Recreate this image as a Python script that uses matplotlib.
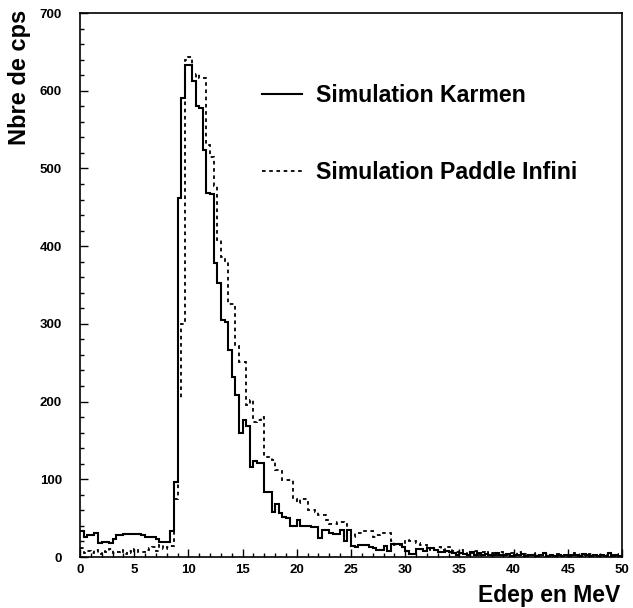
import numpy as np
import matplotlib
matplotlib.use('Agg')
import matplotlib.pyplot as plt
from matplotlib.ticker import MultipleLocator

plt.rcParams['font.family'] = ['Liberation Sans', 'DejaVu Sans']
plt.rcParams['font.weight'] = 'bold'

# 150 bins de 1/3 MeV entre 0 et 50 MeV
x_min, x_max, n_bins = 0, 50, 150

karmen = [33, 26, 28, 28, 31, 18, 19, 19, 18, 23, 28, 28, 29, 29, 29, 29, 29, 28, 26, 26,
          26, 23, 19, 19, 19, 33,
          97, 462, 591, 633, 633, 612, 580, 578, 524, 469, 467, 378, 352, 305, 302, 266,
          232, 208, 159, 176, 168, 116, 123, 121, 121, 84, 84, 58, 68, 56, 52, 50, 40, 40,
          48, 40, 40, 40, 38, 38, 24, 35,
          35, 31, 30, 30, 35, 20, 35, 14, 13, 15, 15, 15, 13, 12, 9, 9, 14, 8, 17, 17, 17,
          13, 8, 4, 4, 10, 10, 8, 12, 12, 9, 6, 6, 8, 6, 5, 3, 5, 4, 2, 6,
          3, 5, 2, 4, 3, 2, 5, 3, 2, 4, 1, 3, 2, 4, 1, 2, 3, 1, 2, 5,
          1, 2, 1, 3, 1, 2, 1, 3, 2, 1, 4, 2, 1, 3, 1, 2, 1, 5, 1, 2, 1]

paddle = [12, 5, 8, 5, 9, 4, 8, 6, 10, 5, 7, 9, 4, 8, 5, 10, 7, 6, 9, 12,
          13, 8, 15, 10, 13, 14,
          75, 205, 300, 640, 643, 612, 622, 616, 616, 530, 515, 477, 408, 386, 380, 326,
          326, 271, 251, 251, 196, 202, 174, 176, 180, 129, 129, 125, 112, 112, 99, 99,
          99, 75, 69, 75, 75, 60, 60, 58, 54, 54, 48,
          43, 43, 45, 45, 43, 31, 26, 31, 31, 34, 34, 34, 26, 28, 31, 31, 31, 20, 15, 15,
          15, 22, 20, 20, 18, 15, 15, 13, 9, 9, 13, 9, 13, 13,
          8, 6, 9, 4, 7, 5, 8, 3, 6, 4, 7, 5, 3, 6, 4, 2, 5, 3, 6, 2,
          4, 3, 5, 2, 3, 4, 1, 3, 2, 4, 1, 3, 2, 5, 1, 2, 3, 1, 4, 2,
          1, 3, 2, 1, 2, 4, 1]

edges = np.linspace(x_min, x_max, n_bins + 1)

fig = plt.figure(figsize=(6.33, 6.08), dpi=100)
ax = fig.add_axes([80 / 633, 51 / 608, 542 / 633, 544 / 608])

ax.stairs(karmen, edges, baseline=None, color='black', lw=1.5, label='Simulation Karmen')
ax.stairs(paddle, edges, baseline=None, color='black', lw=1.3, linestyle=(0, (2, 2)),
          label='Simulation Paddle Infini')

ax.set_xlim(0, 50)
ax.set_ylim(0, 700)
ax.xaxis.set_major_locator(MultipleLocator(5))
ax.xaxis.set_minor_locator(MultipleLocator(1))
ax.yaxis.set_major_locator(MultipleLocator(100))
ax.yaxis.set_minor_locator(MultipleLocator(20))
ax.tick_params(which='both', direction='in', top=False, right=False, width=1)
ax.tick_params(which='major', length=6)
ax.tick_params(which='minor', length=3)
ax.tick_params(axis='x', labelsize=9.5, pad=5)
ax.tick_params(axis='y', labelsize=9.5, pad=13)
for s in ax.spines.values():
    s.set_linewidth(1.2)

ax.set_xlabel('Edep en MeV', fontsize=16.5, fontweight='bold', loc='right')
ax.xaxis.set_label_coords(0.996, -0.05)
ax.set_ylabel('Nbre de cps', fontsize=17, fontweight='bold', loc='top')
ax.yaxis.set_label_coords(-0.09, 1.006)

leg = ax.legend(loc='upper left', bbox_to_anchor=(0.336, 0.870), frameon=False,
                fontsize=16.7, borderpad=0, borderaxespad=0, handlelength=1.73,
                handletextpad=0.6, labelspacing=2.35)
for t in leg.get_texts():
    t.set_fontweight('bold')

fig.savefig('out.png', dpi=100)
